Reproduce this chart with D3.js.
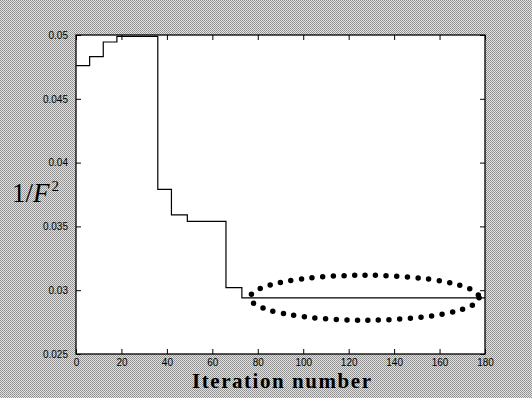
<!doctype html>
<html>
<head>
  <meta charset="UTF-8">
  <title>1/F^2 vs iteration</title>
  <script src="https://cdn.jsdelivr.net/npm/d3@7"></script>
  <style>
    body { margin: 0; }
    .axis path { display: none; }
    .axis line { stroke: black; }
    .tick text { font-family: "Liberation Sans", Arial, sans-serif; font-size: 10px; fill: black; }
  </style>
</head>
<body>
<script>
  // step values
  var iterX = [0, 6, 12, 18, 36, 42, 49, 66, 73, 180];
  var invF2 = [0.0476, 0.0483, 0.04945, 0.0499, 0.0379, 0.0359, 0.0354, 0.0302, 0.0294, 0.0294];

  var xTicks = [0, 20, 40, 60, 80, 100, 120, 140, 160, 180];
  var yTicks = [0.025, 0.03, 0.035, 0.04, 0.045, 0.05];
  var yTickLabels = ["0.025", "0.03", "0.035", "0.04", "0.045", "0.05"];

  // dotted ellipse annotation (data units)
  var ring = { cx: 127, cy: 0.02941, rx: 50.4, ry: 0.00176 };

  var W = 532, H = 398;
  var margin = { top: 35, right: 47, bottom: 44, left: 76 },
    width = W - margin.left - margin.right,
    height = H - margin.top - margin.bottom;

  var svg = d3.select("body").append("svg")
    .attr("width", W)
    .attr("height", H);

  // dithered grey backdrop like the scan
  var pat = svg.append("defs").append("pattern")
    .attr("id", "dith")
    .attr("width", 2).attr("height", 2)
    .attr("patternUnits", "userSpaceOnUse");
  pat.append("rect").attr("width", 2).attr("height", 2).attr("fill", "#e2e2e2");
  pat.append("rect").attr("width", 1).attr("height", 1).attr("fill", "#8e8e8e");
  pat.append("rect").attr("x", 1).attr("y", 1).attr("width", 1).attr("height", 1).attr("fill", "#9a9a9a");

  svg.append("rect").attr("width", W).attr("height", H).attr("fill", "url(#dith)");

  var g = svg.append("g")
    .attr("transform", "translate(" + margin.left + "," + margin.top + ")");

  var x = d3.scaleLinear().domain([0, 180]).range([0, width]);
  var y = d3.scaleLinear().domain([0.025, 0.05]).range([height, 0]);

  g.append("rect")
    .attr("width", width).attr("height", height)
    .attr("fill", "white");

  // inward ticks on all four sides
  g.append("g").attr("class", "axis")
    .attr("transform", "translate(0," + height + ")")
    .call(d3.axisBottom(x).tickValues(xTicks).tickSize(-5).tickPadding(5));

  g.append("g").attr("class", "axis")
    .call(d3.axisTop(x).tickValues(xTicks).tickSize(-5).tickFormat(""));

  g.append("g").attr("class", "axis")
    .call(d3.axisLeft(y).tickValues(yTicks).tickSize(-5).tickPadding(8)
      .tickFormat(function(d, i) { return yTickLabels[i]; }));

  g.append("g").attr("class", "axis")
    .attr("transform", "translate(" + width + ",0)")
    .call(d3.axisRight(y).tickValues(yTicks).tickSize(-5).tickFormat(""));

  g.append("rect")
    .attr("width", width).attr("height", height)
    .attr("fill", "none")
    .attr("stroke", "black")
    .attr("stroke-width", 1.3);

  var pts = iterX.map(function(d, i) { return [d, invF2[i]]; });

  var line = d3.line()
    .x(function(d) { return x(d[0]); })
    .y(function(d) { return y(d[1]); })
    .curve(d3.curveStepAfter);

  g.append("path")
    .datum(pts)
    .attr("d", line)
    .attr("fill", "none")
    .attr("stroke", "black")
    .attr("stroke-width", 1.2);

  g.append("ellipse")
    .attr("cx", x(ring.cx))
    .attr("cy", y(ring.cy))
    .attr("rx", x(ring.rx) - x(0))
    .attr("ry", y(0.025) - y(0.025 + ring.ry))
    .attr("fill", "none")
    .attr("stroke", "black")
    .attr("stroke-width", 5.5)
    .attr("stroke-linecap", "round")
    .attr("stroke-dasharray", "0 10.6");

  svg.append("text")
    .attr("x", 192)
    .attr("y", 388)
    .attr("font-family", "'Liberation Serif', 'Times New Roman', serif")
    .attr("font-weight", "bold")
    .attr("font-size", "21px")
    .attr("textLength", 179)
    .text("Iteration number");

  var yl = svg.append("text")
    .attr("x", 12)
    .attr("y", 202)
    .attr("font-family", "'Liberation Serif', 'Times New Roman', serif")
    .attr("font-size", "27px");
  yl.append("tspan").text("1/");
  yl.append("tspan").attr("font-style", "italic").text("F");
  yl.append("tspan").attr("font-size", "15px").attr("dy", -11).attr("dx", 2).text("2");
</script>
</body>
</html>
